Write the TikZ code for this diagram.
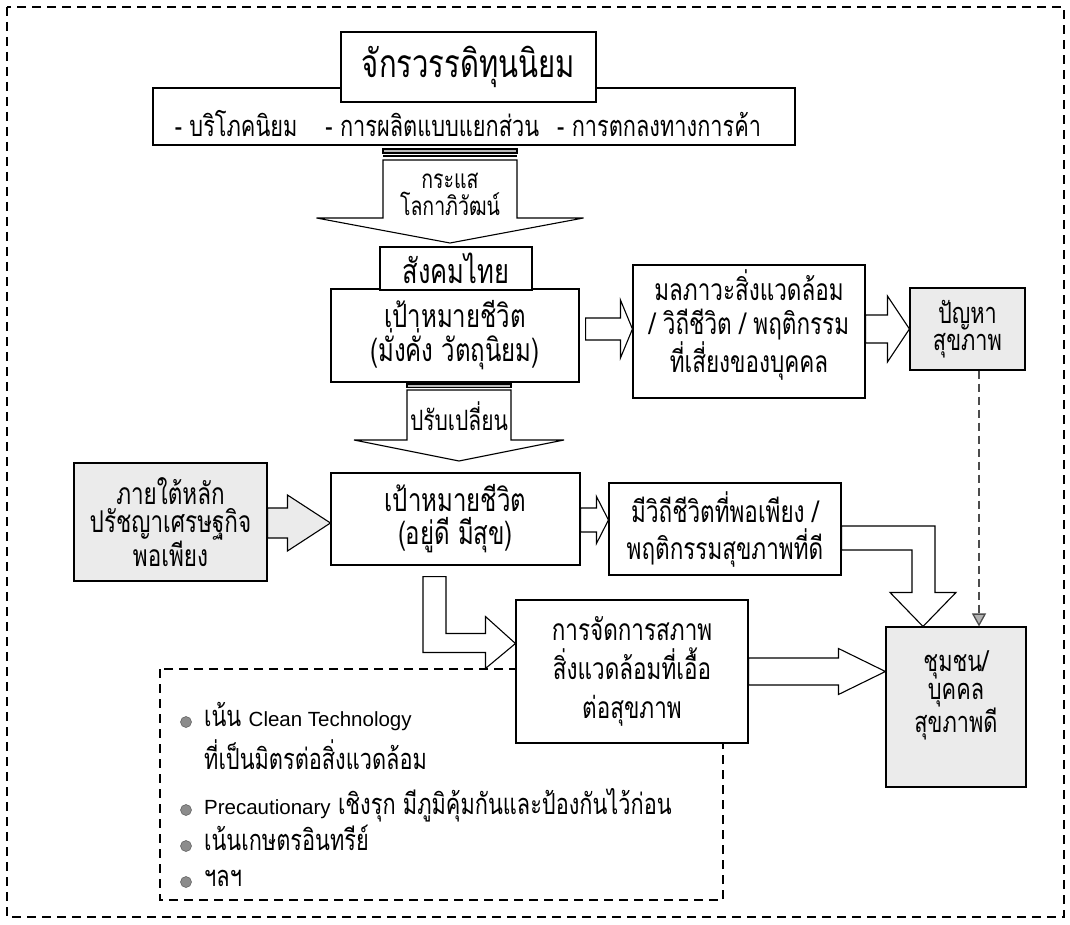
\documentclass[tikz,border=0pt]{standalone}
\usepackage{fontspec}
\setmainfont[Script=Thai, FakeStretch=0.75]{Loma}
\newfontfamily\latin{Liberation Sans}
\usetikzlibrary{calc,arrows.meta}
\definecolor{boxgray}{gray}{0.92}
\definecolor{dotgray}{gray}{0.55}
\tikzset{
    >=Stealth,
    box/.style={
        draw, line width=1.1pt, fill=white, align=center,
        inner sep=0pt, font=\fontsize{30}{34}\selectfont
    },
    shaded/.style={box, fill=boxgray},
    blockarrow/.style={draw, line width=1.1pt, fill=white, line join=miter},
    framedash/.style={line width=1.1pt, dash pattern=on 9pt off 6pt},
    item/.style={
        anchor=west, inner sep=0pt, text height=14pt, text depth=5pt,
        font=\fontsize{29}{32}\selectfont
    },
    dot/.style={
        circle, fill=dotgray, draw=gray!70!black, line width=0.5pt,
        minimum size=11pt, inner sep=0pt
    }
}

% block arrow to the right: [style]{start}{tip}{body half}{head half}{head length}
\newcommand{\blockright}[6][]{%
    \draw[blockarrow,#1] ($(#2|-#3)+(0,-#4)$) -- ($(#3)+(-#6,-#4)$)
        -- ($(#3)+(-#6,-#5)$) -- (#3) -- ($(#3)+(-#6,#5)$)
        -- ($(#3)+(-#6,#4)$) -- ($(#2|-#3)+(0,#4)$) -- cycle;}
% block arrow downwards
\newcommand{\blockdown}[6][]{%
    \draw[blockarrow,#1] ($(#3|-#2)+(-#4,0)$) -- ($(#3)+(-#4,-#6)$)
        -- ($(#3)+(-#5,-#6)$) -- (#3) -- ($(#3)+(#5,-#6)$)
        -- ($(#3)+(#4,-#6)$) -- ($(#3|-#2)+(#4,0)$) -- cycle;}
\newcommand{\lat}[1]{{\latin\fontsize{20.5}{24}\selectfont #1}}

\begin{document}
\begin{tikzpicture}[x=1pt, y=-1pt]

    \useasboundingbox (0,0) rectangle (1070,925);

    % Grobe Umrandung
    \draw[framedash] (7,7) rectangle (1064,917);

    % Kopf
    \node[box, minimum width=642pt, minimum height=57pt] (trade) at (474,116.5) {};
    \node[inner sep=0pt, font=\fontsize{29}{30}\selectfont] (tradetxt) at (468,124)
        {- บริโภคนิยม\hspace{28pt}- การผลิตแบบแยกส่วน\hspace{18pt}- การตกลงทางการค้า};
    \node[box, minimum width=255pt, minimum height=70pt,
          font=\fontsize{39}{42}\selectfont] (empire) at (468.5,67) {จักรวรรดิทุนนิยม};

    % Pfeil: กระแสโลกาภิวัฒน์
    \draw[line width=1.1pt, fill=gray!55] (383,149) rectangle (517,153);
    \draw[line width=1.1pt] (383,156) -- (517,156);
    \coordinate (flowtop) at (450,160);
    \coordinate (flowtip) at (450,243);
    \blockdown{flowtop}{flowtip}{67}{133.5}{25}
    \node[align=center, inner sep=0pt, font=\fontsize{26}{27}\selectfont]
        (flowtxt) at (450,194) {กระแส\\โลกาภิวัฒน์};

    % Obere Reihe
    \node[box, minimum width=248pt, minimum height=93pt, font=\fontsize{32}{33}\selectfont]
        (goalA) at (455,335.5) {เป้าหมายชีวิต\\(มั่งคั่ง วัตถุนิยม)};
    \node[box, minimum width=152pt, minimum height=43pt, font=\fontsize{34}{36}\selectfont]
        (society) at (456,268.5) {สังคมไทย};
    \node[box, minimum width=232pt, minimum height=133pt] (pollution) at (749,331.5) {};
    \node[align=center, inner sep=0pt, font=\fontsize{30}{34}\selectfont]
        (pollutiontxt) at (749,325) {มลภาวะสิ่งแวดล้อม\\/ วิถีชีวิต / พฤติกรรม\\ที่เสี่ยงของบุคคล};
    \node[shaded, minimum width=115pt, minimum height=82pt, font=\fontsize{29}{27}\selectfont]
        (problem) at (967.5,329) {ปัญหา\\สุขภาพ};

    \coordinate (aStart) at ($(goalA.east)+(6,0)$);
    \coordinate (aTip) at ($(pollution.west)+(0,-2.5)$);
    \blockright{aStart}{aTip}{11}{29}{12}
    \blockright{pollution.east}{problem.west}{14}{33}{22}

    % Pfeil: ปรับเปลี่ยน
    \draw[line width=1.1pt, fill=gray!55] (407,384) rectangle (511,387.5);
    \coordinate (shifttop) at (459,390);
    \coordinate (shifttip) at (459,461);
    \blockdown{shifttop}{shifttip}{52}{105}{21}
    \node[inner sep=0pt, font=\fontsize{28}{30}\selectfont] (shifttxt) at (459,416) {ปรับเปลี่ยน};

    % Mittlere Reihe
    \node[shaded, minimum width=193pt, minimum height=118pt, font=\fontsize{30}{28}\selectfont]
        (principle) at (170.5,522) {ภายใต้หลัก\\ปรัชญาเศรษฐกิจ\\พอเพียง};
    \node[box, minimum width=249pt, minimum height=92pt, font=\fontsize{32}{33}\selectfont]
        (goalB) at (455.5,519) {เป้าหมายชีวิต\\(อยู่ดี มีสุข)};
    \node[box, minimum width=232pt, minimum height=92pt, font=\fontsize{30}{37}\selectfont]
        (suffice) at (725,529) {มีวิถีชีวิตที่พอเพียง /\\พฤติกรรมสุขภาพที่ดี};

    \coordinate (pTip) at ($(goalB.west)+(0,4)$);
    \blockright[fill=boxgray]{principle.east}{pTip}{15}{28}{43}
    \coordinate (sTip) at ($(suffice.west)+(0,-9)$);
    \blockright{goalB.east}{sTip}{12}{23.5}{12}

    % Gestrichelte Liste
    \draw[framedash] (160,669) rectangle (723,900);
    \foreach \y/\n in {722/1, 810/2, 846/3, 882/4}
        \node[dot] (dot\n) at (186,\y) {};
    \node[item] (item1)  at (204,722) {เน้น \lat{Clean Technology}};
    \node[item] (item1b) at (204,765) {ที่เป็นมิตรต่อสิ่งแวดล้อม};
    \node[item] (item2)  at (204,810) {\lat{Precautionary} เชิงรุก มีภูมิคุ้มกันและป้องกันไว้ก่อน};
    \node[item] (item3)  at (204,846) {เน้นเกษตรอินทรีย์};
    \node[item] (item4)  at (204,882) {ฯลฯ};

    % Untere Reihe
    \node[box, minimum width=232pt, minimum height=143pt, font=\fontsize{30}{39}\selectfont]
        (manage) at (632,671.5) {การจัดการสภาพ\\สิ่งแวดล้อมที่เอื้อ\\ต่อสุขภาพ};
    \node[shaded, minimum width=140pt, minimum height=160pt] (community) at (956,707) {};
    \node[align=center, inner sep=0pt, font=\fontsize{29}{28}\selectfont]
        (communitytxt) at (956,695) {ชุมชน/\\บุคคล\\สุขภาพดี};

    \coordinate (mTip) at (community.west |- manage.east);
    \blockright{manage.east}{mTip}{13.5}{23}{47}

    % Winkelpfeile
    \coordinate (cTip) at ($(community.north)+(-33,0)$);
    \draw[blockarrow] ($(suffice.east)+(0,-3)$) -| ($(cTip)+(12,-34)$)
        -- ($(cTip)+(33,-34)$) -- (cTip) -- ($(cTip)+(-33,-34)$)
        -- ($(cTip)+(-11,-34)$) |- ($(suffice.east)+(0,21)$) -- cycle;

    \coordinate (gTip) at ($(manage.west)+(0,-28)$);
    \draw[blockarrow] ($(goalB.south)+(-32.5,11)$) -- ($(goalB.south)+(-9.5,11)$)
        |- ($(gTip)+(-30,-10)$) -- ($(gTip)+(-30,-27)$) -- (gTip)
        -- ($(gTip)+(-30,25)$) -- ($(gTip)+(-30,9)$)
        -| ($(goalB.south)+(-32.5,11)$) -- cycle;

    % Gestrichelter Pfeil
    \coordinate (warn) at ($(problem.south)+(11.5,0)$);
    \draw[line width=1.3pt, draw=gray!60!black, dash pattern=on 8pt off 5pt,
          -{Triangle[width=14pt, length=13pt, fill=gray!60]}]
        (warn) -- (warn |- community.north);

\end{tikzpicture}
\end{document}
